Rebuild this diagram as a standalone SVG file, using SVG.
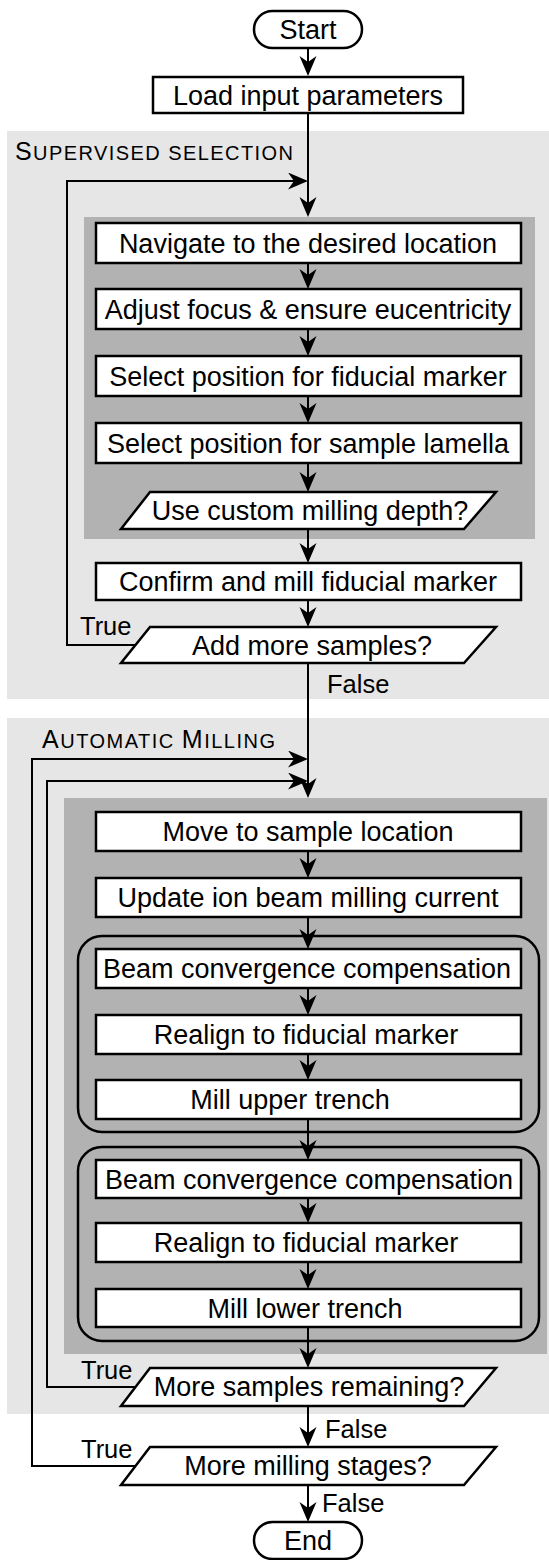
<svg xmlns="http://www.w3.org/2000/svg" width="549" height="1560" viewBox="0 0 549 1560">
  <style>
    text { font-family: "Liberation Sans", Arial, sans-serif; fill: #000; }
    .t { font-size: 27px; text-anchor: middle; }
    .lbl { font-size: 25.5px; }
    .cap { font-size: 25px; }
    .sc { font-size: 20px; }
    .box { fill: #fff; stroke: #000; stroke-width: 2.5; }
    .grp { fill: none; stroke: #000; stroke-width: 2.5; }
    .region { fill: #e6e6e6; }
    .inner { fill: #b2b2b2; }
    .edge { fill: none; stroke: #000; stroke-width: 2; marker-end: url(#arrow); }
  </style>
  <defs>
    <!-- notched arrowhead, tip at x=20 -->
    <marker id="arrow" markerUnits="userSpaceOnUse" markerWidth="21" markerHeight="18" refX="18" refY="8.5" orient="auto">
      <path d="M0,0 L20,8.5 L0,17 L6,8.5 Z" fill="#000"/>
    </marker>
  </defs>

  <!-- background regions -->
  <g id="supervised-selection">
    <rect class="region" x="7" y="131" width="542" height="568"/>
    <rect class="inner" x="84" y="217" width="451" height="322"/>
    <text x="15" y="160" textLength="278" lengthAdjust="spacing"><tspan class="cap">S</tspan><tspan class="sc">UPERVISED SELECTION</tspan></text>
  </g>
  <g id="automatic-milling">
    <rect class="region" x="7" y="718" width="542" height="696"/>
    <rect class="inner" x="64" y="798" width="483" height="556"/>
    <text x="42" y="748" textLength="233" lengthAdjust="spacing"><tspan class="cap">A</tspan><tspan class="sc">UTOMATIC </tspan><tspan class="cap">M</tspan><tspan class="sc">ILLING</tspan></text>
  </g>

  <!-- nodes -->
  <g id="start">
    <rect class="box" x="254" y="11" width="108" height="37" rx="18.5"/>
    <text class="t" x="308" y="39">Start</text>
  </g>
  <g id="load">
    <rect class="box" x="153" y="77" width="310" height="36"/>
    <text class="t" x="308" y="104.5">Load input parameters</text>
  </g>
  <g id="navigate">
    <rect class="box" x="96" y="223" width="425" height="40"/>
    <text class="t" x="308" y="252.5">Navigate to the desired location</text>
  </g>
  <g id="adjust">
    <rect class="box" x="96" y="289" width="425" height="40"/>
    <text class="t" x="308" y="318.5">Adjust focus &amp; ensure eucentricity</text>
  </g>
  <g id="select-fiducial">
    <rect class="box" x="96" y="356" width="425" height="40"/>
    <text class="t" x="308" y="385.5">Select position for fiducial marker</text>
  </g>
  <g id="select-lamella">
    <rect class="box" x="96" y="423" width="425" height="40"/>
    <text class="t" x="308" y="452.5">Select position for sample lamella</text>
  </g>
  <g id="custom-depth">
    <polygon class="box" points="150,492 496,492 464,529 121,529"/>
    <text class="t" x="310" y="520">Use custom milling depth?</text>
  </g>
  <g id="confirm">
    <rect class="box" x="96" y="563" width="425" height="37"/>
    <text class="t" x="308" y="591">Confirm and mill fiducial marker</text>
  </g>
  <g id="add-more">
    <polygon class="box" points="150,627 496,627 464,663 121,663"/>
    <text class="t" x="312" y="654.5">Add more samples?</text>
  </g>

  <g id="move">
    <rect class="box" x="96" y="812" width="425" height="39"/>
    <text class="t" x="308" y="841">Move to sample location</text>
  </g>
  <g id="update-current">
    <rect class="box" x="96" y="878" width="425" height="39"/>
    <text class="t" x="308" y="907">Update ion beam milling current</text>
  </g>

  <g id="upper-stage">
    <rect class="grp" x="78" y="936" width="461" height="196" rx="24"/>
  </g>
  <g id="beam-1">
    <rect class="box" x="96" y="949" width="425" height="39"/>
    <text class="t" x="307" y="978">Beam convergence compensation</text>
  </g>
  <g id="realign-1">
    <rect class="box" x="96" y="1015" width="425" height="39"/>
    <text class="t" x="306" y="1044">Realign to fiducial marker</text>
  </g>
  <g id="mill-upper">
    <rect class="box" x="96" y="1080" width="425" height="39"/>
    <text class="t" x="290" y="1109">Mill upper trench</text>
  </g>

  <g id="lower-stage">
    <rect class="grp" x="78" y="1147" width="461" height="194" rx="24"/>
  </g>
  <g id="beam-2">
    <rect class="box" x="96" y="1160" width="425" height="38"/>
    <text class="t" x="309" y="1188.5">Beam convergence compensation</text>
  </g>
  <g id="realign-2">
    <rect class="box" x="96" y="1223" width="425" height="39"/>
    <text class="t" x="306" y="1252">Realign to fiducial marker</text>
  </g>
  <g id="mill-lower">
    <rect class="box" x="96" y="1289" width="425" height="38"/>
    <text class="t" x="305" y="1317.5">Mill lower trench</text>
  </g>

  <g id="more-samples">
    <polygon class="box" points="150,1368 496,1368 464,1406 121,1406"/>
    <text class="t" x="309" y="1396">More samples remaining?</text>
  </g>
  <g id="more-stages">
    <polygon class="box" points="150,1447 496,1447 464,1485 121,1485"/>
    <text class="t" x="308" y="1475">More milling stages?</text>
  </g>
  <g id="end">
    <rect class="box" x="254" y="1522" width="108" height="37" rx="18.5"/>
    <text class="t" x="308" y="1550">End</text>
  </g>

  <!-- connectors: each path stops 2px short of the arrow tip -->
  <g id="connectors">
    <path class="edge" d="M308,48 V74"/>
    <path class="edge" d="M308,113 V215"/>
    <path class="edge" d="M135.5,645 H67 V181 H306"/>
    <path class="edge" d="M308,263 V287"/>
    <path class="edge" d="M308,329 V354"/>
    <path class="edge" d="M308,396 V421"/>
    <path class="edge" d="M308,463 V490"/>
    <path class="edge" d="M308,529 V561"/>
    <path class="edge" d="M308,600 V625"/>
    <path class="edge" d="M308,663 V796"/>
    <path class="edge" d="M135.5,1466 H32 V759 H306"/>
    <path class="edge" d="M135.5,1387 H47 V781 H306"/>
    <path class="edge" d="M308,851 V876"/>
    <path class="edge" d="M308,917 V947"/>
    <path class="edge" d="M308,988 V1013"/>
    <path class="edge" d="M308,1054 V1078"/>
    <path class="edge" d="M308,1119 V1158"/>
    <path class="edge" d="M308,1198 V1221"/>
    <path class="edge" d="M308,1262 V1287"/>
    <path class="edge" d="M308,1327 V1366"/>
    <path class="edge" d="M308,1406 V1445"/>
    <path class="edge" d="M308,1485 V1520"/>
    <text class="lbl" x="80" y="635">True</text>
    <text class="lbl" x="327" y="693">False</text>
    <text class="lbl" x="81" y="1379">True</text>
    <text class="lbl" x="325" y="1438">False</text>
    <text class="lbl" x="81" y="1458">True</text>
    <text class="lbl" x="322" y="1512">False</text>
  </g>
</svg>
